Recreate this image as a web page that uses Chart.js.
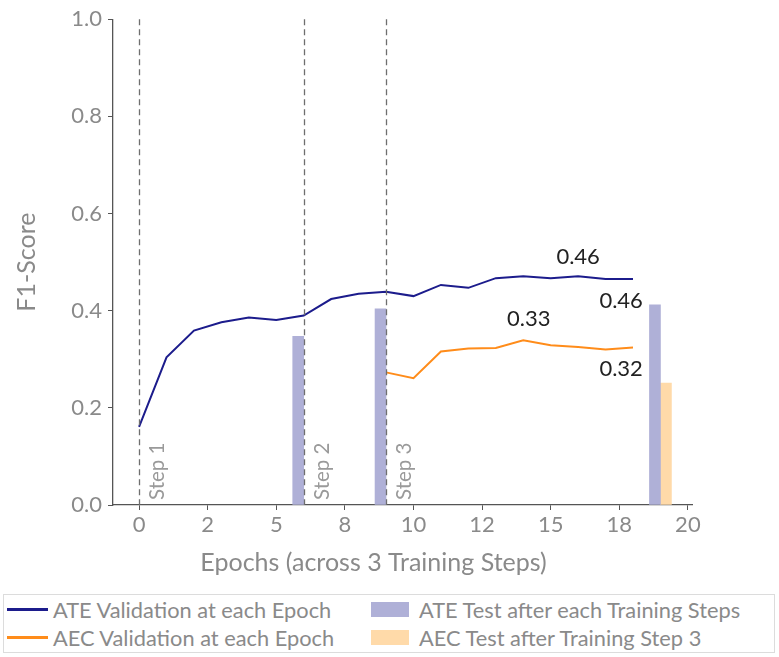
<!DOCTYPE html>
<html>
<head>
<meta charset="utf-8">
<script src="https://cdn.jsdelivr.net/npm/chart.js@4.4.1/dist/chart.umd.min.js"></script>
<style>
    body { margin: 0; background: #fff; font-family: Lato, sans-serif; }
    #wrap { position: relative; width: 779px; height: 657px; }
    #chart-box { position: absolute; left: 0; top: 0; width: 779px; height: 590px; }
    #legend {
        position: absolute; left: 3px; top: 594px; width: 772px; height: 59px;
        border: 1px solid #dcdcdc; box-sizing: border-box;
    }
    .item { position: absolute; display: flex; align-items: center; color: #8a8a8a; font-size: 21.8px; white-space: nowrap; }
    .swatch-line { width: 41px; height: 3px; margin-right: 5px; }
    .swatch-box { width: 38px; height: 15px; margin-right: 10px; }
</style>
</head>
<body>
<div id="wrap">
    <div id="chart-box"><canvas id="chart"></canvas></div>
    <div id="legend"></div>
</div>
<script>
// epochs 0..18 across 3 training steps
const epochs = [0, 1, 2, 3, 4, 5, 6, 7, 8, 9, 10, 11, 12, 13, 14, 15, 16, 17, 18];
const ateVal = [0.161, 0.304, 0.359, 0.376, 0.386, 0.381, 0.390, 0.424, 0.435, 0.439, 0.430, 0.453, 0.447, 0.467, 0.471, 0.467, 0.471, 0.465, 0.465];
const aecEpochs = [9, 10, 11, 12, 13, 14, 15, 16, 17, 18];
const aecVal = [0.273, 0.261, 0.316, 0.322, 0.323, 0.339, 0.329, 0.325, 0.320, 0.324];

// test scores after each training step
const ateTestAt = [5.8, 8.8, 18.8];
const ateTest = [0.347, 0.404, 0.412];
const aecTestAt = [19.2];
const aecTest = [0.251];

const stepAt = [0, 6, 9];
const stepNames = ["Step 1", "Step 2", "Step 3"];

const xTicks = [0, 2.5, 5, 7.5, 10, 12.5, 15, 17.5, 20];
const xTickLabels = ["0", "2", "5", "8", "10", "12", "15", "18", "20"];
const xTitle = "Epochs (across 3 Training Steps)";

const notes = [
    { text: "0.46", x: 16.0, y: 0.511, align: "center" },
    { text: "0.33", x: 14.2, y: 0.384, align: "center" },
    { text: "0.46", x: 18.36, y: 0.421, align: "right" },
    { text: "0.32", x: 18.36, y: 0.280, align: "right" }
];

const labels = ["ATE Validation at each Epoch", "AEC Validation at each Epoch", "ATE Test after each Training Steps", "AEC Test after Training Step 3"];
const colors = ["#1c1c8c", "#ff8c1a", "#afb0d7", "#ffdaa9"];

const FONT = "Lato, sans-serif";
const GREY = "#8a8a8a";

const extras = {
    id: "extras",
    afterDatasetsDraw(chart) {
        const ctx = chart.ctx;
        const x = chart.scales.x, y = chart.scales.y;
        const area = chart.chartArea;
        ctx.save();
        // step dividers
        ctx.strokeStyle = "#6e6e6e";
        ctx.lineWidth = 1.3;
        ctx.setLineDash([6, 4]);
        stepAt.forEach((s, i) => {
            const px = Math.round(x.getPixelForValue(s)) + 0.5;
            ctx.beginPath();
            ctx.moveTo(px, y.getPixelForValue(1));
            ctx.lineTo(px, y.getPixelForValue(0));
            ctx.stroke();

            ctx.save();
            ctx.translate(px + 8, y.getPixelForValue(0) - 5);
            ctx.rotate(-Math.PI / 2);
            ctx.fillStyle = "#9a9a9a";
            ctx.font = "20.5px " + FONT;
            ctx.textAlign = "left";
            ctx.textBaseline = "top";
            ctx.fillText(stepNames[i], 0, 0);
            ctx.restore();
        });
        ctx.setLineDash([]);

        // value notes
        ctx.fillStyle = "#222";
        ctx.font = "22px " + FONT;
        ctx.textBaseline = "middle";
        notes.forEach(n => {
            ctx.textAlign = n.align;
            ctx.fillText(n.text, x.getPixelForValue(n.x), y.getPixelForValue(n.y));
        });

        // x axis title, sitting a bit left of centre like the original
        ctx.fillStyle = GREY;
        ctx.font = "25px " + FONT;
        ctx.textAlign = "center";
        ctx.fillText(xTitle, area.left + area.width * 0.45, area.bottom + 58);
        ctx.restore();
    }
};

new Chart(document.getElementById("chart"), {
    data: {
        datasets: [
            {
                type: "line", label: labels[0], order: 1,
                data: epochs.map((e, i) => ({ x: e, y: ateVal[i] })),
                borderColor: colors[0], borderWidth: 2, pointRadius: 0, tension: 0
            },
            {
                type: "line", label: labels[1], order: 1,
                data: aecEpochs.map((e, i) => ({ x: e, y: aecVal[i] })),
                borderColor: colors[1], borderWidth: 2, pointRadius: 0, tension: 0
            },
            {
                type: "bar", label: labels[2], order: 2, grouped: false,
                data: ateTestAt.map((e, i) => ({ x: e, y: ateTest[i] })),
                backgroundColor: colors[2], barThickness: 11
            },
            {
                type: "bar", label: labels[3], order: 2, grouped: false,
                data: aecTestAt.map((e, i) => ({ x: e, y: aecTest[i] })),
                backgroundColor: colors[3], barThickness: 11
            }
        ]
    },
    options: {
        responsive: true,
        maintainAspectRatio: false,
        animation: false,
        layout: { padding: { top: 15, right: 87, left: 0, bottom: 0 } },
        plugins: { legend: { display: false }, tooltip: { enabled: false } },
        scales: {
            x: {
                type: "linear", min: -0.95, max: 20.15, offset: false,
                afterBuildTicks: axis => { axis.ticks = xTicks.map(v => ({ value: v })); },
                afterFit: axis => { axis.height = 85; },
                grid: { drawOnChartArea: false, offset: false, tickLength: 5, color: "#555" },
                border: { color: "#555", width: 1.3 },
                ticks: {
                    color: GREY, font: { family: FONT, size: 22 }, padding: 2, maxRotation: 0,
                    callback: (v, i) => xTickLabels[i]
                }
            },
            y: {
                min: 0, max: 1,
                afterFit: axis => { axis.width = 113; },
                grid: { drawOnChartArea: false, tickLength: 5, color: "#555" },
                border: { color: "#555", width: 1.3 },
                ticks: {
                    stepSize: 0.2, color: GREY, font: { family: FONT, size: 22 }, padding: 6,
                    callback: v => v.toFixed(1)
                },
                title: {
                    display: true, text: "F1-Score",
                    color: GREY, font: { family: FONT, size: 25 }, padding: { top: 12, bottom: 0 }
                }
            }
        }
    },
    plugins: [extras]
});

// legend: two columns, lines on the left, bars on the right
const legend = document.getElementById("legend");
const slots = [[3, 15], [3, 43], [367, 15], [367, 43]];
labels.forEach((text, i) => {
    const item = document.createElement("div");
    item.className = "item";
    item.style.left = slots[i][0] + "px";
    item.style.top = (slots[i][1] - 14) + "px";
    const sw = document.createElement("span");
    sw.className = i < 2 ? "swatch-line" : "swatch-box";
    sw.style.background = colors[i];
    item.appendChild(sw);
    item.appendChild(document.createTextNode(text));
    legend.appendChild(item);
});
</script>
</body>
</html>
